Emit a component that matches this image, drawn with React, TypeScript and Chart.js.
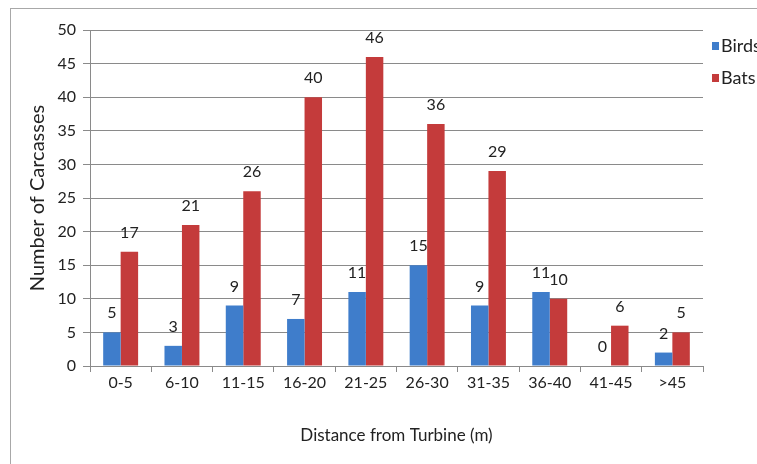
import React, { useEffect, useRef } from "react";
import { Chart, registerables } from "chart.js";

Chart.register(...registerables);

const categories = ["0-5", "6-10", "11-15", "16-20", "21-25", "26-30", "31-35", "36-40", "41-45", ">45"];
const birds = [5, 3, 9, 7, 11, 15, 9, 11, 0, 2];
const bats = [17, 21, 26, 40, 46, 36, 29, 10, 6, 5];
const seriesNames = ["Birds", "Bats"];
const yTitle = "Number of Carcasses";
const xTitle = "Distance from Turbine (m)";

const BLUE = "#3F7DCB";
const RED = "#C43B3B";
const FONT = "Lato, 'Open Sans', sans-serif";
const GRID = "#8a8a8a";

const labelPlugin = {
  id: "valueLabels",
  afterDatasetsDraw(chart: any) {
    const ctx = chart.ctx;
    ctx.save();
    ctx.font = `16px ${FONT}`;
    ctx.fillStyle = "#222";
    ctx.textAlign = "center";
    ctx.textBaseline = "alphabetic";
    chart.data.datasets.forEach((ds: any, i: number) => {
      const meta = chart.getDatasetMeta(i);
      meta.data.forEach((bar: any, j: number) => {
        ctx.fillText(String(ds.data[j]), bar.x, bar.y - 14);
      });
    });
    ctx.restore();
  },
};

const legendPlugin = {
  id: "customLegend",
  afterDraw(chart: any) {
    const ctx = chart.ctx;
    const area = chart.chartArea;
    ctx.save();
    ctx.font = `18px ${FONT}`;
    ctx.textBaseline = "middle";
    ctx.textAlign = "left";
    chart.data.datasets.forEach((ds: any, i: number) => {
      const x = area.right + 9;
      const y = area.top + 16 + i * 32;
      ctx.fillStyle = ds.backgroundColor;
      ctx.fillRect(x, y - 4, 7, 8);
      ctx.fillStyle = "#222";
      ctx.fillText(ds.label, x + 9, y);
    });
    ctx.restore();
  },
};

export default function App() {
  const ref = useRef<HTMLCanvasElement>(null);
  useEffect(() => {
    if (!ref.current) return;
    const chart = new Chart(ref.current, {
      type: "bar",
      data: {
        labels: categories,
        datasets: [
          { label: seriesNames[0], data: birds, backgroundColor: BLUE },
          { label: seriesNames[1], data: bats, backgroundColor: RED },
        ],
      },
      options: {
        animation: false,
        responsive: false,
        devicePixelRatio: 1,
        layout: { padding: { left: 0, top: 30, right: 54, bottom: 0 } },
        plugins: { legend: { display: false }, tooltip: { enabled: false } },
        datasets: { bar: { categoryPercentage: 0.57, barPercentage: 1.0 } },
        scales: {
          x: {
            grid: { drawOnChartArea: false, drawTicks: true, tickLength: 6, color: GRID, offset: true },
            border: { color: GRID },
            ticks: { color: "#222", font: { family: FONT, size: 16 }, padding: 1, maxRotation: 0 },
            title: { display: true, text: xTitle, color: "#222", font: { family: FONT, size: 17 }, padding: { top: 0, bottom: 18 } },
            afterFit: (s: any) => { s.height = 98; },
          },
          y: {
            min: 0,
            max: 50,
            ticks: { stepSize: 5, color: "#222", font: { family: FONT, size: 16 }, padding: 7 },
            grid: { color: GRID, tickLength: 7 },
            border: { color: GRID },
            title: { display: true, text: yTitle, color: "#222", font: { family: FONT, size: 20 }, padding: { top: 26, bottom: 0 } },
            afterFit: (s: any) => { s.width = 90; },
          },
        },
      },
      plugins: [labelPlugin, legendPlugin],
    });
    return () => chart.destroy();
  }, []);
  return (
    <div style={{ position: "absolute", left: 0, top: 0, width: 757, height: 464, overflow: "hidden", background: "#fff" }}>
      <div style={{ position: "absolute", left: 10, top: 8, width: 800, height: 500, border: "1px solid #a8a8a8" }} />
      <canvas ref={ref} width={757} height={464} style={{ position: "absolute", left: 0, top: 0 }} />
    </div>
  );
}
